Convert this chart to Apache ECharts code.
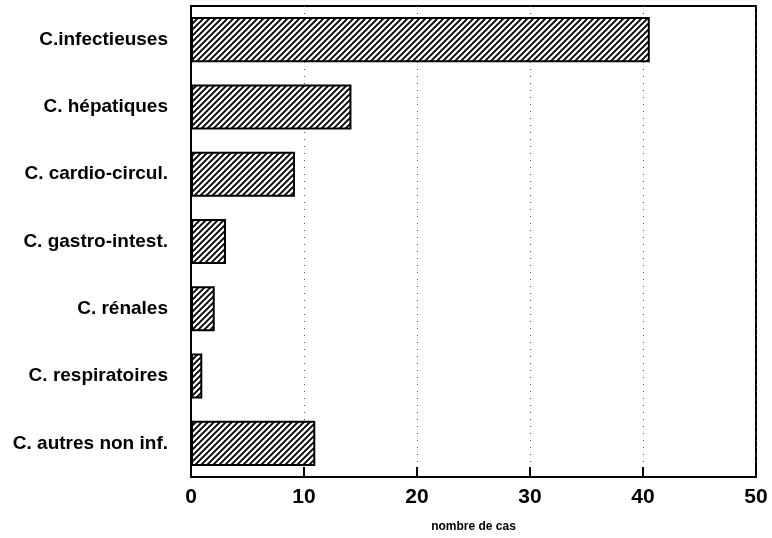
<!DOCTYPE html>
<html>
<head>
<meta charset="utf-8">
<script src="https://cdn.jsdelivr.net/npm/echarts@6/dist/echarts.min.js"></script>
<style>html,body{margin:0;padding:0;background:#fff;}#c{width:772px;height:538px;}</style>
</head>
<body>
<div id="c"></div>
<script>
const categories = ['C.infectieuses', 'C. hépatiques', 'C. cardio-circul.', 'C. gastro-intest.', 'C. rénales', 'C. respiratoires', 'C. autres non inf.'];
const values = [40.6, 14.2, 9.2, 3.1, 2.1, 1, 11];
const xTicks = [0, 10, 20, 30, 40, 50];
const xName = 'nombre de cas';

function hatch() {
  const s = 6;
  const cv = document.createElement('canvas');
  cv.width = s; cv.height = s;
  const g = cv.getContext('2d');
  g.fillStyle = '#fff'; g.fillRect(0, 0, s, s);
  g.strokeStyle = '#000'; g.lineWidth = 1.9;
  g.beginPath();
  g.moveTo(-1, s + 1); g.lineTo(s + 1, -1);
  g.moveTo(-1, 1); g.lineTo(1, -1);
  g.moveTo(s - 1, s + 1); g.lineTo(s + 1, s - 1);
  g.stroke();
  return cv;
}

const font = "'Liberation Sans', Arial, sans-serif";
const chart = echarts.init(document.getElementById('c'), null, {renderer: 'canvas'});
chart.setOption({
  animation: false,
  backgroundColor: '#fff',
  grid: {left: 191, right: 16, top: 6, bottom: 61, show: true, borderColor: '#000', borderWidth: 2, backgroundColor: 'transparent'},
  xAxis: {
    type: 'value', min: xTicks[0], max: xTicks[xTicks.length - 1], interval: 10,
    name: xName, nameLocation: 'middle', nameGap: 44,
    nameTextStyle: {fontFamily: font, fontWeight: 'bold', fontSize: 12, color: '#000'},
    axisLine: {show: true, lineStyle: {color: '#000', width: 2}},
    axisTick: {show: true, inside: true, length: 10, lineStyle: {color: '#000', width: 2}},
    axisLabel: {fontFamily: font, fontWeight: 'bold', fontSize: 21, color: '#000', margin: 10},
    splitLine: {show: true, lineStyle: {type: [1, 6], color: '#555', width: 1}}
  },
  yAxis: {
    type: 'category', data: categories, inverse: true,
    axisLine: {show: true, lineStyle: {color: '#000', width: 2}},
    axisTick: {show: false},
    axisLabel: {fontFamily: font, fontWeight: 'bold', fontSize: 19, color: '#000', margin: 23}
  },
  series: [{
    type: 'bar', data: values, barCategoryGap: '33%',
    itemStyle: {color: {image: hatch(), repeat: 'repeat'}, borderColor: '#000', borderWidth: 2}
  }]
});
</script>
</body>
</html>
